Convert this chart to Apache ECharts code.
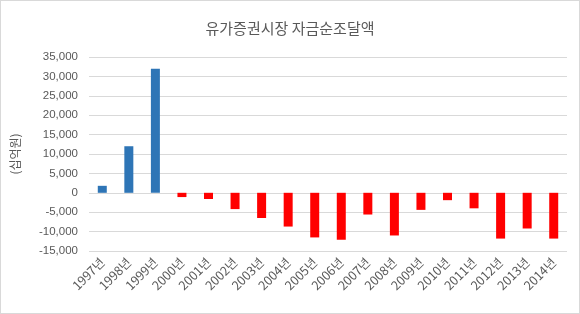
<!DOCTYPE html>
<html><head><meta charset="utf-8">
<script src="https://cdn.jsdelivr.net/npm/echarts@6/dist/echarts.min.js"></script>
<style>
html,body{margin:0;padding:0;background:#fff;}
#c{width:578px;height:312px;border:1px solid #d9d9d9;}
</style></head>
<body><div id="c"></div>
<script>
const title = '유가증권시장 자금순조달액';
const yName = '(십억원)';
const categories = ['1997년','1998년','1999년','2000년','2001년','2002년','2003년','2004년','2005년','2006년','2007년','2008년','2009년','2010년','2011년','2012년','2013년','2014년'];
const values = [1800,12000,32000,-1100,-1600,-4200,-6500,-8700,-11500,-12100,-5600,-11000,-4400,-1900,-4000,-11800,-9200,-11800];
const yMin = -15000, yMax = 35000, yStep = 5000;

const chart = echarts.init(document.getElementById('c'), null, {renderer:'canvas'});
chart.setOption({
  animation:false,
  title:{text:title,left:'center',top:15,textStyle:{fontFamily:'Noto Sans CJK KR',fontSize:15,fontWeight:'normal',color:'#595959'}},
  grid:{left:82,right:12,top:56,bottom:62},
  xAxis:{type:'category',data:categories,
    axisLine:{show:false},axisTick:{show:false},
    axisLabel:{rotate:45,interval:0,color:'#595959',fontSize:12.5,fontFamily:'Noto Sans CJK KR',margin:9}},
  yAxis:{type:'value',min:yMin,max:yMax,interval:yStep,
    name:yName,nameLocation:'middle',nameRotate:90,nameGap:68,
    nameTextStyle:{color:'#595959',fontSize:12,fontFamily:'Noto Sans CJK KR'},
    axisLine:{show:false},axisTick:{show:false},
    axisLabel:{color:'#595959',fontSize:11.5,fontFamily:'Liberation Sans',margin:11,
      formatter:v=>v.toLocaleString('en-US')},
    splitLine:{lineStyle:{color:'#d9d9d9',width:1}}},
  series:[{type:'bar',data:values.map(v=>({value:v,itemStyle:{color:v>=0?'#2e75b6':'#ff0000'}})),barWidth:9}]
});
</script></body></html>
